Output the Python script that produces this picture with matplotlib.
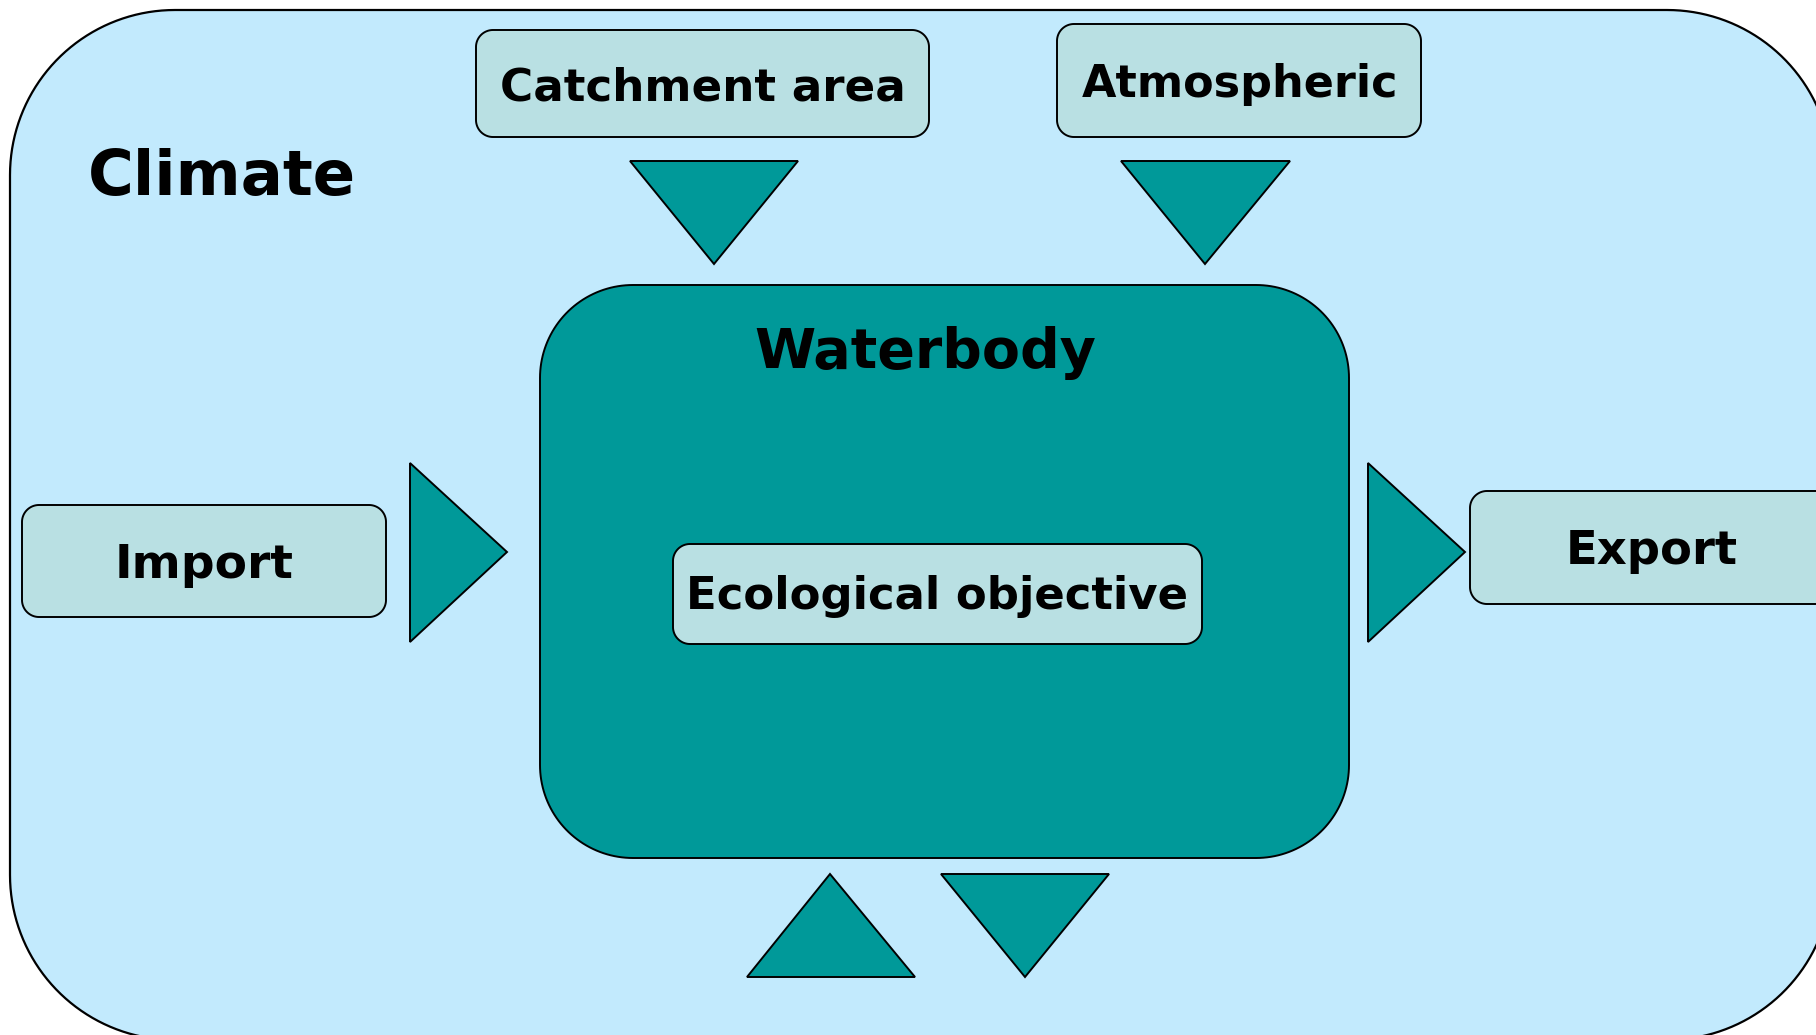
import numpy as np
import matplotlib.pyplot as plt
from matplotlib.patches import Polygon

# box labels and their frames (x0, y0, x1, y1) in pixel space
box_labels = ["Catchment area", "Atmospheric", "Import", "Export", "Ecological objective"]
box_frames = [(476, 30, 929, 137), (1057, 24, 1421, 137), (22, 505, 386, 617),
              (1470, 491, 1850, 604), (673, 544, 1202, 644)]
label_xy = [(703, 88), (1240, 85), (204, 566), (1652, 552), (937, 597)]
label_size = [32.6, 32, 34, 33.5, 32.4]

# flow triangles
triangles = [
    [(630, 161), (798, 161), (714, 264)],
    [(1121, 161), (1290, 161), (1205, 264)],
    [(410, 463), (410, 642), (507, 552)],
    [(1368, 463), (1368, 642), (1465, 552)],
    [(747, 977), (915, 977), (830, 874)],
    [(941, 874), (1109, 874), (1025, 977)],
]

outer_frame = (10, 10, 1832, 1040)
water_frame = (540, 285, 1349, 858)

SKY = "#c2eafd"
TEAL = "#009999"
PALE = "#b9e0e3"

fig = plt.figure(figsize=(18.16, 10.35), dpi=100)
ax = fig.add_axes([0, 0, 1, 1])
ax.set_xlim(0, 1816)
ax.set_ylim(1035, 0)
ax.axis("off")


def rbox(frame, r, fc, lw=1.4, z=1):
    # rounded rectangle with true circular corners
    x0, y0, x1, y1 = frame
    t = np.linspace(0, np.pi / 2, 40)
    corners = [
        (x1 - r, y0 + r, -np.pi / 2),   # top right
        (x1 - r, y1 - r, 0.0),          # bottom right
        (x0 + r, y1 - r, np.pi / 2),    # bottom left
        (x0 + r, y0 + r, np.pi),        # top left
    ]
    pts = []
    for cx, cy, a0 in corners:
        a = a0 + t
        pts.extend(zip(cx + r * np.cos(a), cy + r * np.sin(a)))
    ax.add_patch(Polygon(pts, closed=True, fc=fc, ec="black", lw=lw, zorder=z))


rbox(outer_frame, 165, SKY, lw=1.6, z=0)
rbox(water_frame, 93, TEAL, z=1)

for fr in box_frames:
    rbox(fr, 17, PALE, z=2)

for lab, (x, y), fs in zip(box_labels, label_xy, label_size):
    ax.text(x, y, lab, ha="center", va="center", fontsize=fs,
            fontweight="bold", family="DejaVu Sans", zorder=3)

ax.text(222, 178, "Climate", ha="center", va="center", fontsize=45,
        fontweight="bold", family="DejaVu Sans", zorder=3)
ax.text(925, 353, "Waterbody", ha="center", va="center", fontsize=40,
        fontweight="bold", family="DejaVu Sans", zorder=3)

for tri in triangles:
    ax.add_patch(Polygon(tri, closed=True, fc=TEAL, ec="black", lw=1.4,
                         joinstyle="miter", zorder=2))

fig.savefig("out.png", dpi=100, facecolor="white")
